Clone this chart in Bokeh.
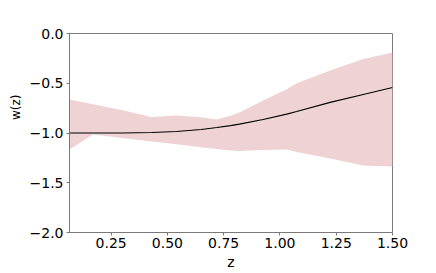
from bokeh.plotting import figure
from bokeh.models import Range1d, FixedTicker, Title, ColumnDataSource
from bokeh.embed import file_html
from bokeh.resources import INLINE

# data
z = [0.065, 0.17, 0.30, 0.43, 0.54, 0.65, 0.72, 0.78, 0.82, 0.925, 1.03, 1.074, 1.223, 1.37, 1.5]
w_upper = [-0.663, -0.712, -0.772, -0.838, -0.824, -0.842, -0.864, -0.826, -0.794, -0.673, -0.56, -0.50, -0.372, -0.256, -0.19]
w_lower = [-1.166, -1.015, -1.05, -1.086, -1.114, -1.142, -1.16, -1.176, -1.18, -1.172, -1.166, -1.19, -1.256, -1.327, -1.337]
w_mean = [-1.0, -1.0, -1.0, -0.995, -0.985, -0.965, -0.945, -0.925, -0.91, -0.864, -0.81, -0.784, -0.693, -0.613, -0.543]

x_ticks = [0.25, 0.5, 0.75, 1.0, 1.25, 1.5]
x_tick_labels = ["0.25", "0.50", "0.75", "1.00", "1.25", "1.50"]
y_ticks = [0.0, -0.5, -1.0, -1.5, -2.0]
y_tick_labels = ["0.0", "\u22120.5", "\u22121.0", "\u22121.5", "\u22122.0"]
x_title = "z"
y_title = "w(z)"

FONT = "DejaVu Sans"
x0, x1 = 0.065, 1.5
y0, y1 = -2.0, 0.0

p = figure(width=436, height=273, output_backend="svg", toolbar_location=None,
           x_range=Range1d(x0, x1), y_range=Range1d(y0, y1),
           min_border_left=69, min_border_right=44, min_border_top=33, min_border_bottom=41)
p.grid.visible = False
p.background_fill_color = "white"
p.border_fill_color = "white"
p.outline_line_color = "#7a7a7a"
p.outline_line_width = 1

src = ColumnDataSource(dict(z=z, lo=w_lower, hi=w_upper, m=w_mean))
p.varea(x="z", y1="lo", y2="hi", source=src, fill_color="#efd3d4", fill_alpha=1.0)
p.line(x="z", y="m", source=src, line_color="black", line_width=1.2)

p.xaxis.ticker = FixedTicker(ticks=x_ticks)
p.xaxis.major_label_overrides = {t: l for t, l in zip(x_ticks, x_tick_labels)}
p.yaxis.ticker = FixedTicker(ticks=y_ticks)
p.yaxis.major_label_overrides = {t: l for t, l in zip(y_ticks, y_tick_labels)}

for ax in (p.xaxis, p.yaxis):
    ax.axis_line_color = "#7a7a7a"
    ax.major_tick_line_color = "#7a7a7a"
    ax.major_tick_out = 3
    ax.major_tick_in = 0
    ax.minor_tick_line_color = None
    ax.major_label_text_font = FONT
    ax.major_label_text_font_size = "14px"
    ax.major_label_text_color = "black"
p.xaxis.major_label_standoff = 2
p.yaxis.major_label_standoff = 3

p.xaxis.axis_label = x_title
p.xaxis.axis_label_text_font = FONT
p.xaxis.axis_label_text_font_size = "14px"
p.xaxis.axis_label_text_font_style = "normal"
p.xaxis.axis_label_text_color = "black"
p.xaxis.axis_label_standoff = 3

p.add_layout(Title(text=y_title, align="right", offset=61, standoff=8,
                   text_font=FONT, text_font_size="12px", text_font_style="normal",
                   text_color="black"), "left")

open("out.html", "w").write(file_html(p, INLINE))
